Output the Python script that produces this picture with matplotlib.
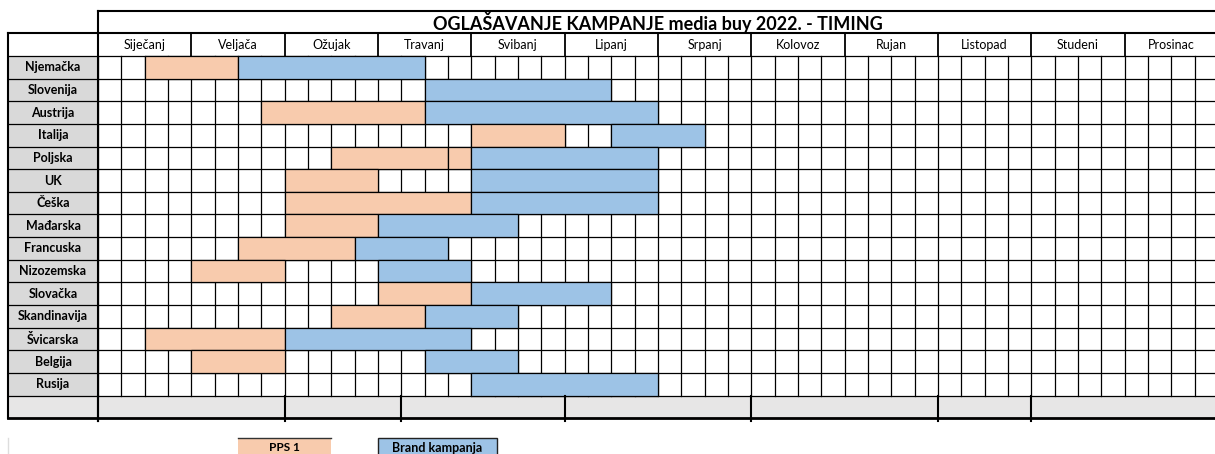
import matplotlib.pyplot as plt
from matplotlib.patches import Rectangle

plt.rcParams['font.family'] = ['Lato', 'DejaVu Sans']

title = 'OGLAŠAVANJE KAMPANJE media buy 2022. - TIMING'
months = ['Siječanj', 'Veljača', 'Ožujak', 'Travanj', 'Svibanj', 'Lipanj',
          'Srpanj', 'Kolovoz', 'Rujan', 'Listopad', 'Studeni', 'Prosinac']
countries = ['Njemačka', 'Slovenija', 'Austrija', 'Italija', 'Poljska', 'UK',
             'Češka', 'Mađarska', 'Francuska', 'Nizozemska', 'Slovačka',
             'Skandinavija', 'Švicarska', 'Belgija', 'Rusija']

# (start week, end week), weeks counted 0..48 through the year
pps = [[(2, 6)], [], [(7, 14)], [(16, 20)], [(10, 15), (15, 16)], [(8, 12)],
       [(8, 16)], [(8, 12)], [(6, 11)], [(4, 8)], [(12, 16)], [(10, 14)],
       [(2, 8)], [(4, 8)], []]
brand = [[(6, 14)], [(14, 22)], [(14, 24)], [(22, 26)], [(16, 24)], [(16, 24)],
         [(16, 24)], [(12, 18)], [(11, 15)], [(12, 16)], [(16, 22)], [(14, 18)],
         [(8, 16)], [(14, 18)], [(16, 24)]]
footer_breaks = [0, 8, 13, 20, 28, 36, 40, 48]

c_pps = '#f8cbad'
c_brand = '#9dc3e6'
c_label = '#d9d9d9'
c_footer = '#e7e6e6'

n_weeks = 48
n_rows = len(countries)
week_px = 23.33
row_px = 22.64

fig = plt.figure(figsize=(12.15, 4.54), dpi=100)
ax = fig.add_axes([0, 0, 1, 1])
ax.set_xlim(-98 / week_px, (1215 - 98) / week_px)
ax.set_ylim((454 - 56) / row_px, -56 / row_px)
ax.axis('off')

lab_x0 = -90 / week_px
lw = 0.9

# label column and footer backgrounds
ax.add_patch(Rectangle((lab_x0, 0), -lab_x0, n_rows, fc=c_label, ec='none', zorder=0))
ax.add_patch(Rectangle((lab_x0, n_rows), n_weeks - lab_x0, 1, fc=c_footer, ec='none', zorder=0))

# week grid
for w in range(n_weeks + 1):
    ax.plot([w, w], [0, n_rows], color='black', lw=lw, zorder=1)
for r in range(n_rows + 1):
    ax.plot([lab_x0, n_weeks], [r, r], color='black', lw=lw, zorder=1)

# bars
for i in range(n_rows):
    for s, e in pps[i]:
        ax.add_patch(Rectangle((s, i), e - s, 1, fc=c_pps, ec='black', lw=lw, zorder=2))
    for s, e in brand[i]:
        ax.add_patch(Rectangle((s, i), e - s, 1, fc=c_brand, ec='black', lw=lw, zorder=2))
    ax.text(lab_x0 / 2, i + 0.5, countries[i], ha='center', va='center',
            fontsize=9, fontweight='bold', zorder=3)

# month header
for m, name in enumerate(months):
    ax.plot([4 * m, 4 * m], [-1, 0], color='black', lw=1.3, zorder=3)
    ax.text(4 * m + 2, -0.5, name, ha='center', va='center', fontsize=9, zorder=3)
ax.plot([lab_x0, n_weeks], [-1, -1], color='black', lw=1.5, zorder=3)
ax.plot([lab_x0, lab_x0], [-1, n_rows + 1], color='black', lw=1.5, zorder=3)
ax.plot([0, 0], [-2, n_rows + 1.1], color='black', lw=1.5, zorder=3)
ax.plot([0, n_weeks], [-2, -2], color='black', lw=1.5, zorder=3)
ax.text(n_weeks / 2, -1.5, title, ha='center', va='center', fontsize=13,
        fontweight='bold', zorder=3)

# footer row
for b in footer_breaks:
    ax.plot([b, b], [n_rows, n_rows + 1.1], color='black', lw=1.5, zorder=3)
ax.plot([lab_x0, n_weeks], [n_rows + 1, n_rows + 1], color='black', lw=2, zorder=3)

# legend
leg_y = (438 - 56) / row_px
ax.add_patch(Rectangle((6, leg_y), 4, 1, fc=c_pps, ec='none', zorder=2))
ax.plot([6, 10], [leg_y, leg_y], color='#333333', lw=1, zorder=3)
ax.text(8, leg_y + 0.42, 'PPS 1', ha='center', va='center', fontsize=8.5,
        fontweight='bold', zorder=3)
ax.add_patch(Rectangle((12, leg_y), 5.1, 1, fc=c_brand, ec='#222222', lw=1, zorder=2))
ax.text(14.55, leg_y + 0.42, 'Brand kampanja', ha='center', va='center',
        fontsize=9, fontweight='bold', zorder=3)
ax.plot([lab_x0, lab_x0], [leg_y, leg_y + 1], color='#dddddd', lw=1, zorder=3)

fig.savefig('out.png', dpi=100)
